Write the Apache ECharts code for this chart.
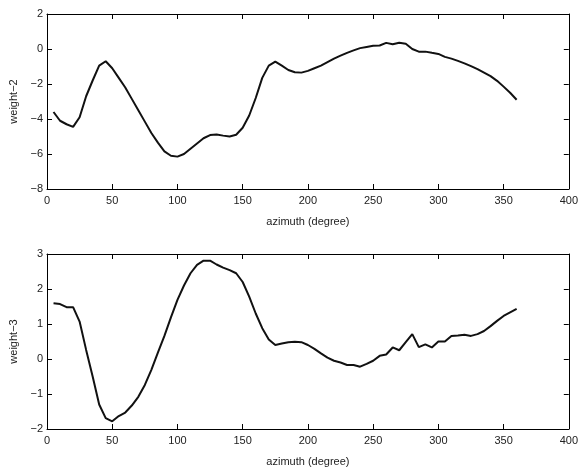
<!DOCTYPE html>
<html>
<head>
<meta charset="utf-8">
<script src="https://cdn.jsdelivr.net/npm/echarts@6/dist/echarts.min.js"></script>
<style>html,body{margin:0;padding:0;background:#fff}#c{width:581px;height:474px}</style>
</head>
<body>
<div id="c"></div>
<script>
var azimuth = [];
for (var d = 5; d <= 360; d += 5) azimuth.push(d);

var weight2 = [-3.6,-4.1,-4.3,-4.45,-3.9,-2.7,-1.8,-0.95,-0.7,-1.1,
  -1.65,-2.2,-2.85,-3.5,-4.15,-4.8,-5.35,-5.85,-6.1,-6.15,
  -6.0,-5.7,-5.4,-5.1,-4.92,-4.88,-4.95,-5.0,-4.9,-4.5,
  -3.8,-2.8,-1.65,-0.95,-0.72,-0.95,-1.2,-1.33,-1.35,-1.25,
  -1.1,-0.95,-0.75,-0.55,-0.38,-0.22,-0.08,0.05,0.12,0.18,
  0.2,0.35,0.27,0.36,0.3,0.0,-0.15,-0.15,-0.22,-0.28,
  -0.45,-0.55,-0.68,-0.82,-0.98,-1.15,-1.35,-1.55,-1.82,-2.15,
  -2.5,-2.9];

var weight3 = [1.59,1.57,1.48,1.48,1.07,0.26,-0.5,-1.3,-1.69,-1.78,
  -1.63,-1.53,-1.33,-1.08,-0.74,-0.31,0.18,0.66,1.19,1.69,
  2.1,2.45,2.69,2.81,2.81,2.7,2.61,2.54,2.45,2.2,
  1.78,1.3,0.88,0.56,0.4,0.44,0.48,0.49,0.48,0.4,
  0.29,0.16,0.04,-0.05,-0.1,-0.17,-0.17,-0.22,-0.14,-0.05,
  0.09,0.13,0.33,0.25,0.48,0.71,0.34,0.42,0.33,0.5,
  0.5,0.66,0.67,0.69,0.66,0.71,0.8,0.94,1.09,1.23,
  1.33,1.43];

var xName = 'azimuth (degree)';
var yNames = ['weight\u22122', 'weight\u22123'];
var yRanges = [[-8, 2, 2], [-2, 3, 1]];
var xRange = [0, 400, 50];

function pairs(ys){ return azimuth.map(function(x,i){ return [x, ys[i]]; }); }
function fmt(v){ return String(v).replace('-', '\u2212'); }

var FONT = 'Liberation Sans, Arial, sans-serif';
var lineStyle = {color:'#000', width:1};
var tickStyle = {show:true, inside:true, length:5, lineStyle:{color:'#000', width:1}};

var grids = [
  {left:46, right:7, top:14, height:175},
  {left:46, right:7, top:254, height:175}
];
var xAxes = [], yAxes = [], series = [];
[weight2, weight3].forEach(function(ys, g){
  xAxes.push({gridIndex:g, type:'value', min:xRange[0], max:xRange[1], interval:xRange[2], position:'bottom',
    name:xName, nameLocation:'middle', nameGap:27, nameTextStyle:{color:'#222', fontSize:11, fontFamily:FONT},
    axisLine:{show:true, onZero:false, lineStyle:lineStyle}, axisTick:tickStyle, splitLine:{show:false},
    axisLabel:{show:true, margin:6, color:'#222', fontSize:11, fontFamily:FONT, formatter:fmt}});
  xAxes.push({gridIndex:g, type:'value', min:xRange[0], max:xRange[1], interval:xRange[2], position:'top',
    axisLine:{show:true, onZero:false, lineStyle:lineStyle}, axisTick:tickStyle, splitLine:{show:false}, axisLabel:{show:false}});
  var r = yRanges[g];
  yAxes.push({gridIndex:g, type:'value', min:r[0], max:r[1], interval:r[2], position:'left',
    name:yNames[g], nameLocation:'middle', nameGap:28, nameRotate:90, nameTextStyle:{color:'#222', fontSize:11, fontFamily:FONT},
    axisLine:{show:true, onZero:false, lineStyle:lineStyle}, axisTick:tickStyle, splitLine:{show:false},
    axisLabel:{show:true, margin:4, color:'#222', fontSize:11, fontFamily:FONT, formatter:fmt}});
  yAxes.push({gridIndex:g, type:'value', min:r[0], max:r[1], interval:r[2], position:'right',
    axisLine:{show:true, onZero:false, lineStyle:lineStyle}, axisTick:tickStyle, splitLine:{show:false}, axisLabel:{show:false}});
  series.push({type:'line', xAxisIndex:g*2, yAxisIndex:g*2, data:pairs(ys), showSymbol:false, symbol:'none',
    lineStyle:{color:'#111', width:2}, animation:false});
});

var chart = echarts.init(document.getElementById('c'), null, {renderer:'canvas'});
chart.setOption({backgroundColor:'#fff', animation:false, grid:grids, xAxis:xAxes, yAxis:yAxes, series:series});
</script>
</body>
</html>
